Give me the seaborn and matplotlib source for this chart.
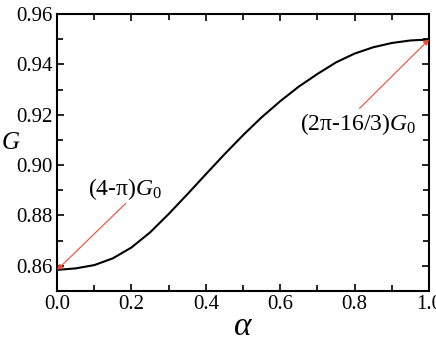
import numpy as np
import matplotlib
matplotlib.use("Agg")
import matplotlib.pyplot as plt
import seaborn as sns
import pandas as pd

# values
alpha = [0.0, 0.05, 0.1, 0.15, 0.2, 0.25, 0.3, 0.35, 0.4, 0.45, 0.5,
         0.55, 0.6, 0.65, 0.7, 0.75, 0.8, 0.85, 0.9, 0.95, 1.0]
G = [0.8584, 0.8590, 0.8603, 0.8630, 0.8673, 0.8733, 0.8806, 0.8884, 0.8964,
     0.9043, 0.9119, 0.9190, 0.9254, 0.9312, 0.9362, 0.9408, 0.9443, 0.9468,
     0.9485, 0.9495, 0.9499]
xticks = [0.0, 0.2, 0.4, 0.6, 0.8, 1.0]
yticks = [0.86, 0.88, 0.90, 0.92, 0.94, 0.96]

sns.set_style("ticks")
plt.rcParams['font.family'] = ['Liberation Serif', 'DejaVu Serif']
plt.rcParams['mathtext.fontset'] = 'custom'
plt.rcParams['mathtext.rm'] = 'Liberation Serif'
plt.rcParams['mathtext.it'] = 'Liberation Serif:italic'
plt.rcParams['text.color'] = 'black'
plt.rcParams['xtick.color'] = 'black'
plt.rcParams['ytick.color'] = 'black'
plt.rcParams['axes.labelcolor'] = 'black'

df = pd.DataFrame({'alpha': alpha, 'G': G})

fig = plt.figure(figsize=(4.36, 3.42), dpi=100)
ax = fig.add_axes([0.131, 0.149, 0.853, 0.810])
sns.lineplot(data=df, x='alpha', y='G', ax=ax, color='black', lw=1.5)

ax.set_xlim(0, 1)
ax.set_ylim(0.85, 0.96)
ax.set_xticks(xticks)
ax.set_xticklabels([f"{v:.1f}" for v in xticks])
ax.set_yticks(yticks)
ax.set_yticklabels([f"{v:.2f}" for v in yticks])
ax.set_xticks(np.arange(0.1, 1.0, 0.2), minor=True)
ax.set_yticks(np.arange(0.85, 0.96, 0.02), minor=True)
ax.tick_params(which='both', direction='in', top=True, right=True,
               width=1.2, labelsize=15, pad=3)
ax.tick_params(which='major', length=5)
ax.tick_params(which='minor', length=4)
for s in ax.spines.values():
    s.set_linewidth(1.5)
    s.set_color('black')

ax.set_xlabel('α', fontsize=24, style='italic', labelpad=-2)
ax.set_ylabel('G', fontsize=18, style='italic', rotation=0, va='center', ha='center')
ax.yaxis.set_label_coords(-0.126, 0.534)

red = '#f04a30'
arrow = dict(arrowstyle='-|>', color=red, lw=0.8, mutation_scale=8,
             shrinkA=0, shrinkB=0)
ax.text(0.182, 0.8905, '(4-π)$G_0$', fontsize=17, ha='center', va='center')
ax.annotate('', xy=(alpha[0], G[0]), xytext=(0.185, 0.8849), arrowprops=arrow)
ax.text(0.808, 0.9165, '(2π-16/3)$G_0$', fontsize=17, ha='center', va='center')
ax.annotate('', xy=(alpha[-1], G[-1]), xytext=(0.813, 0.9225), arrowprops=arrow)

fig.savefig('out.png', dpi=100)
